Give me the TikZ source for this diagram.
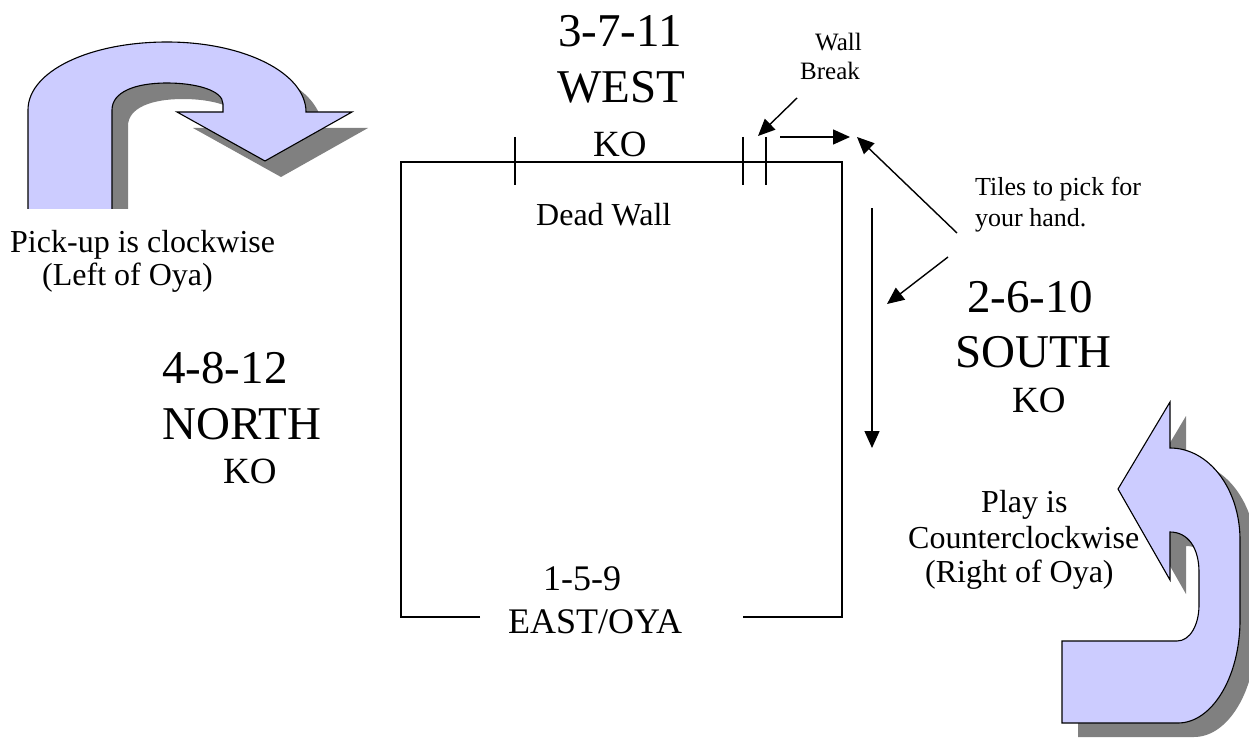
\documentclass[tikz,border=0pt]{standalone}
\usepackage{fontspec}
\setmainfont{Liberation Serif}
\usetikzlibrary{arrows.meta}
\definecolor{lav}{HTML}{CCCCFF}
\definecolor{shade}{HTML}{808080}
\newcommand\pickuparrowpath{(28,240) -- (28,110) .. controls (28,71) and (90,42) .. (167,42) .. controls (244,42) and (306,73) .. (306,112) -- (352,112) -- (265,161) -- (177,112) -- (223,112) -- (223,104) .. controls (223,90) and (195,83) .. (167,83) .. controls (135,83) and (112,92) .. (112,110) -- (112,240) -- cycle}
\newcommand\playarrowpath{(1170,402) -- (1118,489) -- (1170,580) -- (1170,532) .. controls (1188,532) and (1199,548) .. (1199,572) -- (1199,605) .. controls (1199,625) and (1190,641) .. (1177,641) -- (1062,641) -- (1062,723) -- (1178,723) .. controls (1212,723) and (1240,677) .. (1240,620) -- (1240,540) .. controls (1240,489) and (1209,448) .. (1170,448) -- cycle}
\tikzset{
  lbl/.style={inner sep=0pt, anchor=base west, text=black},
  bigtxt/.style={lbl, font=\fontsize{47}{50}\selectfont},
  kotxt/.style={lbl, font=\fontsize{37}{40}\selectfont},
  easttxt/.style={lbl, font=\fontsize{36}{40}\selectfont},
  midtxt/.style={lbl, font=\fontsize{32}{36}\selectfont},
  smalltxt/.style={lbl, font=\fontsize{26}{30}\selectfont},
  walltxt/.style={lbl, font=\fontsize{25}{29}\selectfont},
  wall/.style={line width=1.4pt, line cap=butt},
  pointer/.style={line width=1.4pt, -{Triangle[length=17pt,width=15pt]}},
  bentarrow/.style={fill=lav, draw=black, line width=1.1pt, line join=miter},
  bentshadow/.style={fill=shade}
}
\begin{document}
\begin{tikzpicture}[x=1pt,y=-1pt]
\useasboundingbox (0,0) rectangle (1249,738);
\fill[white] (0,0) rectangle (1249,738);

% pick-up arrow (top left)
\begin{scope}
  \clip (0,0) rectangle (420,208);
  \begin{scope}[shift={(16,16)}]
    \path[bentshadow] \pickuparrowpath;
  \end{scope}
  \path[bentarrow] \pickuparrowpath;
\end{scope}

% play arrow (bottom right)
\begin{scope}[shift={(16,14)}]
  \path[bentshadow] \playarrowpath;
\end{scope}
\path[bentarrow] \playarrowpath;

% the wall
\coordinate (bl) at (401,617);
\coordinate (tl) at (401,162);
\coordinate (tr) at (842,162);
\coordinate (br) at (842,617);
\coordinate (bgl) at (480,617);
\coordinate (bgr) at (743,617);
\draw[wall] (bgl) -- (bl) -- (tl) -- (tr) -- (br) -- (bgr);
\coordinate (t1a) at (515,137); \coordinate (t1b) at (515,185);
\coordinate (t2a) at (743,137); \coordinate (t2b) at (743,185);
\coordinate (t3a) at (766,137); \coordinate (t3b) at (766,185);
\draw[wall] (t1a) -- (t1b);
\draw[wall] (t2a) -- (t2b);
\draw[wall] (t3a) -- (t3b);

% labels
\node[bigtxt] (w1) at (558,47) {3-7-11};
\node[bigtxt] (w2) at (557,103) {WEST};
\node[kotxt] (w3) at (593,157) {KO};
\node[bigtxt] (n1) at (162,383) {4-8-12};
\node[bigtxt] (n2) at (162,439) {NORTH};
\node[kotxt] (n3) at (223,483) {KO};
\node[bigtxt] (s1) at (967,312) {2-6-10};
\node[bigtxt] (s2) at (955,367) {SOUTH};
\node[kotxt] (s3) at (1012,412) {KO};
\node[easttxt] (e1) at (543,590) {1-5-9};
\node[easttxt] (e2) at (508,633) {EAST/OYA};
\node[midtxt] (dead) at (536,225) {Dead Wall};
\node[midtxt] (pk1) at (10,252) {Pick-up is clockwise};
\node[midtxt] (pk2) at (42,285) {(Left of Oya)};
\node[walltxt] (wb1) at (815,51) {Wall};
\node[walltxt] (wb2) at (800,80) {Break};
\node[smalltxt] (ti1) at (975,195) {Tiles to pick for};
\node[smalltxt] (ti2) at (975,226) {your hand.};
\node[midtxt] (pl1) at (981,512) {Play is};
\node[midtxt] (pl2) at (908,548) {Counterclockwise};
\node[midtxt] (pl3) at (925,582) {(Right of Oya)};

% pointers
\coordinate (wbs) at (797,98);
\coordinate (wbe) at (758,136);
\coordinate (hs) at (780,137);
\coordinate (he) at (850,137);
\coordinate (tas) at (957,233);
\coordinate (tae) at (857,137);
\coordinate (tbs) at (948,257);
\coordinate (tbe) at (887,304);
\coordinate (vs) at (872,208);
\coordinate (ve) at (872,448);
\draw[pointer] (wbs) -- (wbe);
\draw[pointer] (hs) -- (he);
\draw[pointer] (tas) -- (tae);
\draw[pointer] (tbs) -- (tbe);
\draw[pointer] (vs) -- (ve);
\end{tikzpicture}
\end{document}
